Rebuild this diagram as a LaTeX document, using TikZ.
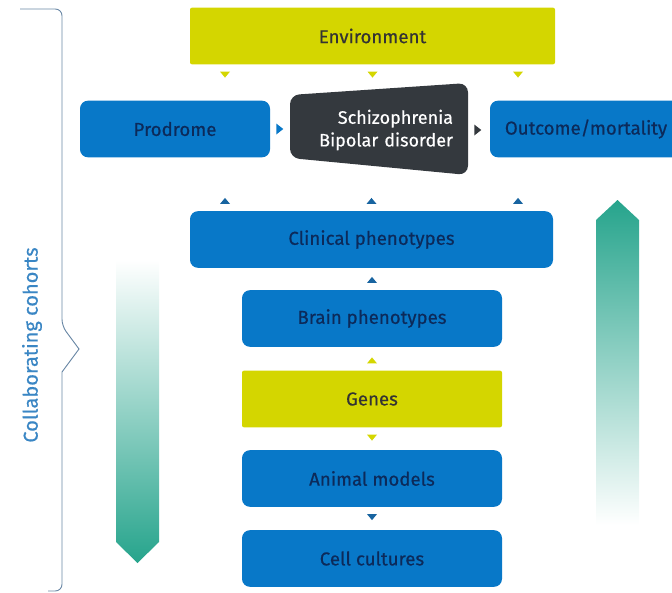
\documentclass[tikz,border=0pt]{standalone}
\usepackage{fontspec}
\setmainfont{Fira Sans}
\newfontfamily\medfont{Fira Sans}[FakeBold=0.5]
\definecolor{boxblue}{RGB}{8,120,200}
\definecolor{tipblue}{RGB}{24,100,160}
\definecolor{boxlime}{RGB}{212,214,0}
\definecolor{boxdark}{RGB}{52,57,62}
\definecolor{navy}{RGB}{12,42,90}
\definecolor{cohort}{RGB}{58,134,196}
\definecolor{bracecol}{RGB}{105,135,165}
\definecolor{fadeteal}{RGB}{38,164,140}
\tikzset{
	blue box/.style={fill=boxblue, text=navy, rounded corners=6pt, minimum height=42.5pt},
	lime box/.style={fill=boxlime, text=black!80, rounded corners=1.5pt, minimum height=42.5pt},
	tipd/.pic={\fill (-5,7) -- (5,7) -- (0,13) -- cycle;},
	tipu/.pic={\fill (-5,-7) -- (5,-7) -- (0,-13) -- cycle;},
	tipr/.pic={\fill (6,-5.5) -- (6,5.5) -- (13,0) -- cycle;},
}
\begin{document}
\begin{tikzpicture}[x=0.75pt, y=-0.75pt, font=\medfont\fontsize{14}{16}\selectfont]
	\useasboundingbox (0,0) rectangle (672,593);
	
	% fading arrows
	\shade[top color=white, bottom color=fadeteal, middle color=fadeteal!50] (116,260) -- (159,260) -- (159,542) -- (137.5,563) -- (116,542) -- cycle;
	\shade[top color=fadeteal, bottom color=white, middle color=fadeteal!50] (596,525) -- (639,525) -- (639,220) -- (617.5,200) -- (596,220) -- cycle;
	
	% cohorts brace
	\draw[bracecol, line width=0.7pt] (20,9) [rounded corners=5pt]-- (62,9) -- (62,326) [sharp corners]-- (79,349) -- (62,372) [rounded corners=5pt]-- (62,591) -- (48,591);
	\node[text=cohort, rotate=90, font=\medfont\fontsize{15}{17}\selectfont] (coh) at (32,345) {Collaborating cohorts};
	
	\node[lime box, minimum width=273.75pt] (env) at (372.5,36) {Environment};
	\node[blue box, minimum width=142.5pt] (pro) at (175,129) {Prodrome};
	\node[blue box, minimum width=144pt] (out) at (586,129) {Outcome/mortality};
	
	\fill[boxdark, rounded corners=7pt] (290,95) -- (468,83) -- (468,175) -- (290,158) -- cycle;
	\node[text=white, align=right, text width=111pt, inner xsep=11.25pt, font=\medfont\fontsize{13.5}{17}\selectfont] (schiz) at (379,130) {Schizophrenia\\Bipolar disorder};
	
	\node[blue box, minimum width=272.25pt] (clin) at (371.5,239.5) {Clinical phenotypes};
	\node[blue box, minimum width=195pt] (brain) at (372,318.5) {Brain phenotypes};
	\node[lime box, minimum width=195pt] (genes) at (372,399) {Genes};
	\node[blue box, minimum width=195pt] (animal) at (372,478.5) {Animal models};
	\node[blue box, minimum width=195pt] (cell) at (372,558.5) {Cell cultures};
	
	\coordinate (c1) at (225,0);
	\coordinate (c3) at (518,0);
	
	\path (env.south -| c1) -- pic[pos=0, boxlime] {tipd} (pro.north -| c1);
	\path (env.south) -- pic[pos=0, boxlime] {tipd} (env.south |- schiz.north);
	\path (env.south -| c3) -- pic[pos=0, boxlime] {tipd} (out.north -| c3);
	\path (pro.east) -- pic[pos=0, boxblue] {tipr} (pro.east -| schiz.west);
	\path (schiz.east) -- pic[pos=0, boxdark] {tipr} (out.west);
	\path (clin.north -| c1) -- pic[pos=0, tipblue] {tipu} (pro.south -| c1);
	\path (clin.north) -- pic[pos=0, tipblue] {tipu} (clin.north |- schiz.south);
	\path (clin.north -| c3) -- pic[pos=0, tipblue] {tipu} (out.south -| c3);
	\path (brain.north) -- pic[pos=0, tipblue] {tipu} (clin.south);
	\path (genes.north) -- pic[pos=0, boxlime] {tipu} (brain.south);
	\path (genes.south) -- pic[pos=0, boxlime] {tipd} (animal.north);
	\path (animal.south) -- pic[pos=0, tipblue] {tipd} (cell.north);
\end{tikzpicture}
\end{document}
